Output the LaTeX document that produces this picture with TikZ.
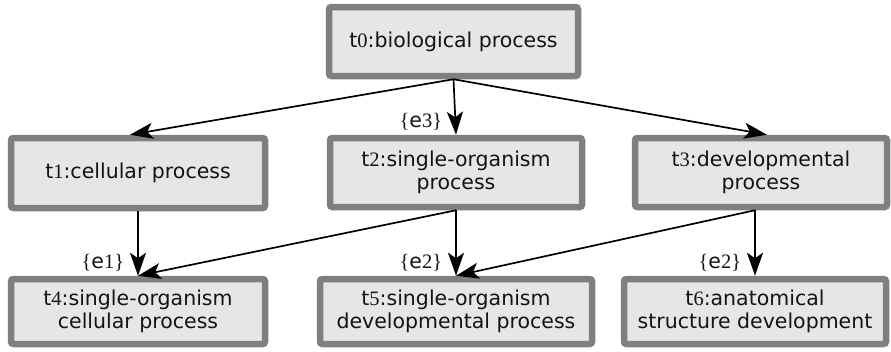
\documentclass[tikz,border=0pt]{standalone}
\usepackage{fontspec}
\usetikzlibrary{arrows.meta}
\newfontfamily\dvsans{DejaVu Sans}
\newfontfamily\digitserif{Liberation Serif}
\definecolor{boxfill}{HTML}{E6E6E6}
\definecolor{boxline}{HTML}{7F7F7F}
% digits and braces are set in a serif face
\newcommand{\nm}[1]{{\digitserif #1}}
\tikzset{
  term/.style={draw=boxline, fill=boxfill, line width=6.5pt, rounded corners=2.5pt,
    align=center, inner sep=0pt, text=black!92,
    font=\dvsans\fontsize{20.5}{23.5}\selectfont},
  link/.style={line width=1.7pt, -{Stealth[length=23pt,width=16pt,inset=5.5pt]}},
  elabel/.style={inner sep=0pt, anchor=south east, pos=1, xshift=-13pt, yshift=4pt,
    text=black!92, font=\dvsans\fontsize{20.5}{23.5}\selectfont}
}
\begin{document}
\begin{tikzpicture}[x=1pt,y=-1pt]
\useasboundingbox (0,0) rectangle (891,351);
% terms
\node[term, minimum width=249pt, minimum height=69pt] (t0) at (453.5,41.5) {t\nm{0}:biological process};
\node[term, minimum width=254pt, minimum height=70pt] (t1) at (138,173) {t\nm{1}:cellular process};
\node[term, minimum width=252pt, minimum height=69pt] (t2) at (456,172.5) {t\nm{2}:single-organism\\process};
\node[term, minimum width=252pt, minimum height=69pt] (t3) at (761,172.5) {t\nm{3}:developmental\\process};
\node[term, minimum width=254pt, minimum height=65pt] (t4) at (138,311.5) {t\nm{4}:single-organism\\cellular process};
\node[term, minimum width=272pt, minimum height=65pt] (t5) at (456,311.5) {t\nm{5}:single-organism\\developmental process};
\node[term, minimum width=262pt, minimum height=65pt] (t6) at (755,311.5) {t\nm{6}:anatomical\\structure development};
% is-a links
\draw[link] (t0.south) -- ([xshift=-8pt]t1.north);
\draw[link] (t0.south) -- (t2.north) node[elabel] {\nm{\{}e\nm{3\}}};
\draw[link] (t0.south) -- ([xshift=6pt]t3.north);
\draw[link] (t1.south) -- (t4.north) node[elabel] {\nm{\{}e\nm{1\}}};
\draw[link] (t2.south) -- (t4.north);
\draw[link] (t2.south) -- (t5.north) node[elabel] {\nm{\{}e\nm{2\}}};
\draw[link] ([xshift=-6pt]t3.south) -- (t5.north);
\draw[link] ([xshift=-6pt]t3.south) -- (t6.north) node[elabel] {\nm{\{}e\nm{2\}}};
\end{tikzpicture}
\end{document}
